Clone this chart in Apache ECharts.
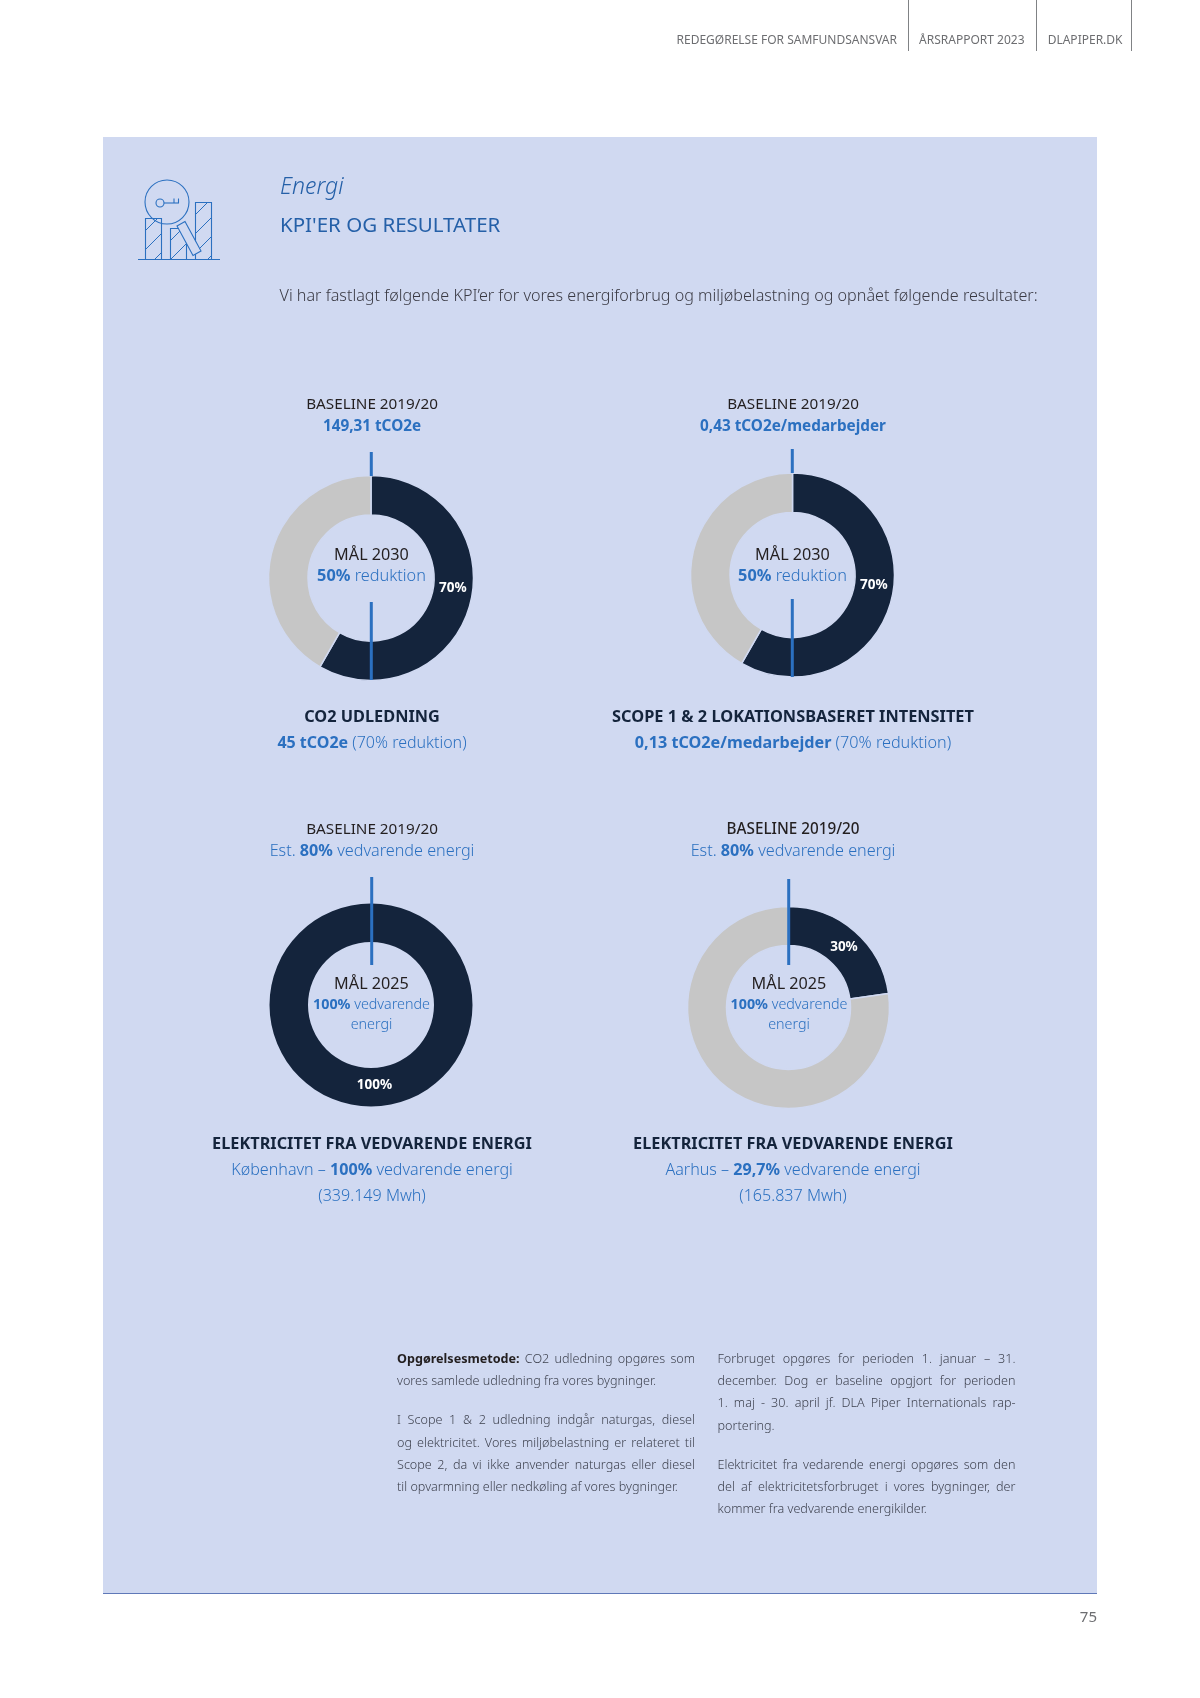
<!DOCTYPE html>
<html><head><meta charset="utf-8">
<script src="https://cdn.jsdelivr.net/npm/echarts@6/dist/echarts.min.js"></script>
<style>html,body{margin:0;padding:0;background:#fff}#c{width:1200px;height:1698px}</style>
</head><body><div id="c"></div>
<script>
const sliceNames = ['Opnået', 'Resterende'];
const co2Values = [58.3, 41.7];
const scopeValues = [58.3, 41.7];
const cphValues = [100];
const aarhusValues = [22.8, 77.2];
const co2Label = '70%';
const scopeLabel = '70%';
const cphLabel = '100%';
const aarhusLabel = '30%';

const BG='#d0d9f1', DARK='#14243c', GRAY='#c6c6c6', BLUE='#2b70c0', HEAD='#2560a8', INK='#231f20', BODY='#3f4350';
const FF='"Noto Sans"';
const YS=1.4;
const g=[];
g.push({type:'rect',z:-1,shape:{x:103,y:137,width:994,height:1457},style:{fill:BG}});
g.push({type:'rect',z:100,shape:{x:103,y:1593,width:994,height:1},style:{fill:'#5f78b8'}});

function seg(x1,y1,x2,y2,stroke,w){g.push({type:'line',z:100,shape:{x1,y1,x2,y2},style:{stroke,lineWidth:w}});}
function txt(x,y,text,size,fill,opt){opt=opt||{};g.push({type:'text',z:101,x,y:y+YS,style:{text,fontFamily:FF,fontSize:size,fill,fontWeight:opt.w||400,fontStyle:opt.i?'italic':'normal',align:opt.a||'center',verticalAlign:'middle'}});}
function rich(x,y,parts,size,opt){opt=opt||{};
  const styles={},s=parts.map((p,i)=>{styles['r'+i]={fontFamily:FF,fontSize:size,fill:p[2],fontWeight:p[1],lineHeight:size*1.4};return '{r'+i+'|'+p[0]+'}';}).join('');
  g.push({type:'text',z:101,x,y:y+YS,style:{text:s,rich:styles,align:opt.a||'center',verticalAlign:'middle'}});}

// header
txt(897,39,'REDEGØRELSE FOR SAMFUNDSANSVAR',12,'#6d6e71',{a:'right'});
txt(1024.5,39,'ÅRSRAPPORT 2023',12,'#6d6e71',{a:'right'});
txt(1122.5,39,'DLAPIPER.DK',12,'#6d6e71',{a:'right'});
[908.5,1036.5,1131.5].forEach(x=>seg(x,0,x,51,'#808285',1));

// heading
txt(280,186,'Energi',23,HEAD,{a:'left',i:true,w:300});
txt(280,225,"KPI'ER OG RESULTATER",20.5,HEAD,{a:'left'});
txt(279.5,295,'Vi har fastlagt følgende KPI’er for vores energiforbrug og miljøbelastning og opnået følgende resultater:',16.15,'#3a3a44',{a:'left',w:300});

// icon
const IC='#2b70c0';
g.push({type:'circle',z:100,shape:{cx:167,cy:202,r:22},style:{fill:'none',stroke:IC,lineWidth:1.1}});
g.push({type:'circle',z:100,shape:{cx:160,cy:203,r:4},style:{fill:'none',stroke:IC,lineWidth:1.1}});
seg(164,203,179,203,IC,1.1);seg(174,198.5,174,203,IC,1.1);seg(178.5,198.5,178.5,203,IC,1.1);
seg(138,259.5,220,259.5,IC,1.1);
function bar(x0,y0,x1,y1){g.push({type:'rect',z:100,shape:{x:x0,y:y0,width:x1-x0,height:y1-y0},style:{fill:'none',stroke:IC,lineWidth:1.1}});
  for(let c=y0+x0+12;c<y1+x1;c+=19){let xa=Math.max(x0,c-y1),xb=Math.min(x1,c-y0);if(xb>xa)seg(xa,c-xa,xb,c-xb,IC,1);}}
bar(145.5,218.5,161.5,259.5);bar(170.5,228.5,186.5,259.5);bar(195.5,202.5,211.5,259.5);
g.push({type:'polygon',z:100,shape:{points:[[177,226],[185,221.5],[201,251],[193,255.5]]},style:{fill:BG,stroke:IC,lineWidth:1.1}});

// KPI texts col 1 / col 2
const L=372,R=793;
txt(L,403.5,'BASELINE 2019/20',15.25,INK);
txt(L,425.5,'149,31 tCO2e',15.3,BLUE,{w:700});
txt(R,403.5,'BASELINE 2019/20',15.25,INK);
txt(R,425.5,'0,43 tCO2e/medarbejder',15.3,BLUE,{w:700});
txt(L,716,'CO2 UDLEDNING',16.3,DARK,{w:700});
rich(L,742,[['45 tCO2e',700,BLUE],[' (70% reduktion)',300,BLUE]],16);
txt(R,716,'SCOPE 1 & 2 LOKATIONSBASERET INTENSITET',16.35,DARK,{w:700});
rich(R,742,[['0,13 tCO2e/medarbejder',700,BLUE],[' (70% reduktion)',300,BLUE]],16.2);
txt(371.5,554,'MÅL 2030',16.2,INK);
rich(371.5,575,[['50%',700,BLUE],[' reduktion',300,BLUE]],16.3);
txt(792.5,554,'MÅL 2030',16.2,INK);
rich(792.5,575,[['50%',700,BLUE],[' reduktion',300,BLUE]],16.3);

txt(L,828.5,'BASELINE 2019/20',15.25,INK);
rich(L,850,[['Est. ',300,BLUE],['80%',700,BLUE],[' vedvarende energi',300,BLUE]],16.2);
txt(R,828.5,'BASELINE 2019/20',15.25,INK,{w:500});
rich(R,850,[['Est. ',300,BLUE],['80%',700,BLUE],[' vedvarende energi',300,BLUE]],16.2);
txt(371.5,983,'MÅL 2025',16.2,INK);
rich(371.5,1004,[['100%',700,BLUE],[' vedvarende',300,BLUE]],14.3);
txt(371.5,1024,'energi',14.3,BLUE,{w:300});
txt(789,983,'MÅL 2025',16.2,INK);
rich(789,1004,[['100%',700,BLUE],[' vedvarende',300,BLUE]],14.3);
txt(789,1024,'energi',14.3,BLUE,{w:300});
txt(L,1143,'ELEKTRICITET FRA VEDVARENDE ENERGI',16.3,DARK,{w:700});
rich(L,1169.5,[['København – ',300,BLUE],['100%',700,BLUE],[' vedvarende energi',300,BLUE]],16.1);
txt(L,1195.5,'(339.149 Mwh)',16.1,BLUE,{w:300});
txt(R,1143,'ELEKTRICITET FRA VEDVARENDE ENERGI',16.3,DARK,{w:700});
rich(R,1169.5,[['Aarhus – ',300,BLUE],['29,7%',700,BLUE],[' vedvarende energi',300,BLUE]],16.1);
txt(R,1195.5,'(165.837 Mwh)',16.1,BLUE,{w:300});

// reference ticks on the rings
[[371.3,452,476],[371.3,602,680],[792.3,449,473],[792.3,599,677],[371.7,877,965],[788.7,879,965]].forEach(t=>seg(t[0],t[1],t[0],t[2],BLUE,3));

// body text (justified lines)
const mc=document.createElement('canvas').getContext('2d');
const BS=12.6;
function jline(x,y,parts,width){
  const words=[];parts.forEach(p=>p[0].split(' ').forEach(w=>{if(w)words.push([w,p[1]]);}));
  const wt=w=>w[1]||300;
  const m=w=>{mc.font=wt(w)+' '+BS+'px '+FF;return mc.measureText(w[0]).width;};
  const tot=words.reduce((a,w)=>a+m(w),0);
  mc.font='300 '+BS+'px '+FF;
  const gap=width?(width-tot)/(words.length-1):mc.measureText(' ').width;
  let cx=x;words.forEach(w=>{txt(cx,y,w[0],BS,w[1]?'#231f20':BODY,{a:'left',w:wt(w)});cx+=m(w)+gap;});
}
const W=298;
jline(397,1358,[['Opgørelsesmetode:',700],['CO2 udledning opgøres som']],W);
jline(397,1380.5,[['vores samlede udledning fra vores bygninger.']]);
jline(397,1419.5,[['I Scope 1 & 2 udledning indgår naturgas, diesel']],W);
jline(397,1442,[['og elektricitet. Vores miljøbelastning er relateret til']],W);
jline(397,1464,[['Scope 2, da vi ikke anvender naturgas eller diesel']],W);
jline(397,1486,[['til opvarmning eller nedkøling af vores bygninger.']]);
jline(717.5,1358,[['Forbruget opgøres for perioden 1. januar – 31.']],W);
jline(717.5,1380.5,[['december. Dog er baseline opgjort for perioden']],W);
jline(717.5,1402.5,[['1. maj - 30. april jf. DLA Piper Internationals rap-']],W);
jline(717.5,1425.5,[['portering.']]);
jline(717.5,1464,[['Elektricitet fra vedarende energi opgøres som den']],W);
jline(717.5,1486,[['del af elektricitetsforbruget i vores bygninger, der']],W);
jline(717.5,1508,[['kommer fra vedvarende energikilder.']]);

txt(1097,1616,'75',15,'#6d6e71',{a:'right'});

function ring(cx,cy,values,label,dx,dy,colors,outer,inner){
  return {type:'pie',silent:true,animation:false,center:[cx,cy],radius:[inner,outer],startAngle:90,clockwise:true,
    avoidLabelOverlap:false,z:2,
    data:values.map((v,i)=>({value:v,name:sliceNames[i],
      itemStyle:{color:colors[i],borderColor:values.length>1?BG:'transparent',borderWidth:values.length>1?1.5:0},
      label:{show:i===0,formatter:label}})),
    label:{position:'inside',fontFamily:FF,fontSize:13.5,fontWeight:700,color:'#fff'},
    labelLine:{show:false},
    labelLayout:{dx,dy}};
}
const chart=echarts.init(document.getElementById('c'),null,{renderer:'canvas'});
chart.setOption({animation:false,backgroundColor:'#fff',
  series:[
    ring(371,578,co2Values,co2Label,-1,-12,[DARK,GRAY],102.5,63),
    ring(792.5,575,scopeValues,scopeLabel,-1,-12,[DARK,GRAY],102,62.5),
    ring(371,1005,cphValues,cphLabel,3.5,-5,[DARK],101.5,63),
    ring(788.5,1007.5,aarhusValues,aarhusLabel,0,3,[DARK,GRAY],101,62)
  ],
  graphic:{elements:g}
});
</script></body></html>
